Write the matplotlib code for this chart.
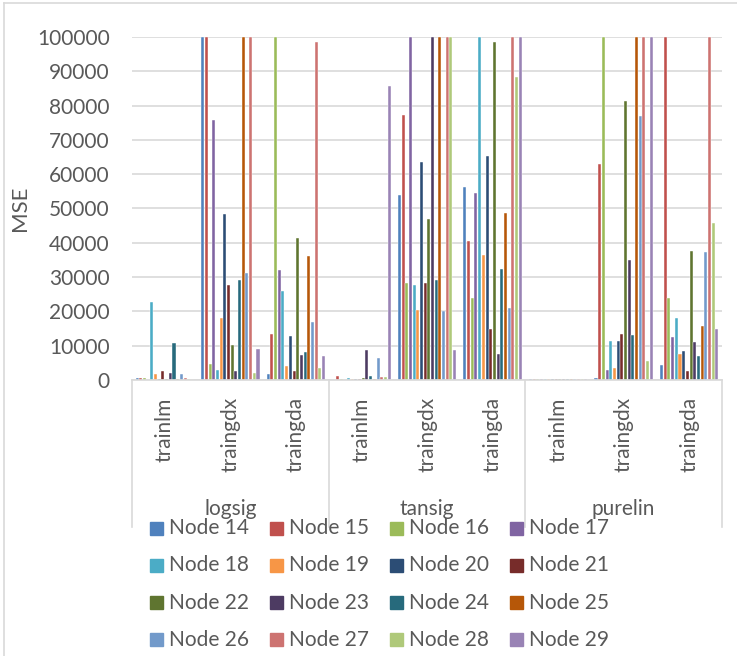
import matplotlib
matplotlib.use("Agg")
import matplotlib.pyplot as plt
from matplotlib.lines import Line2D
from matplotlib.patches import Rectangle
import numpy as np

plt.rcParams["font.family"] = ["Lato", "DejaVu Sans"]

activations = ["logsig", "tansig", "purelin"]
trainers = ["trainlm", "traingdx", "traingda"]
nodes = [f"Node {n}" for n in range(14, 30)]
colors = ["#4F81BD", "#C0504D", "#9BBB59", "#8064A2", "#4BACC6", "#F79646",
          "#2C4D75", "#772C2A", "#5F7530", "#4D3B62", "#276A7C", "#B65708",
          "#729ACA", "#CD7371", "#AFC97A", "#9983B5"]

# MSE per category (rows) and node (columns); bars at 100000 run off the axis
logsig_trainlm = [500, 600, 500, 100, 22800, 1750, 200, 2600, 300, 1900, 10700, 200, 1750, 600, 300, 100]
logsig_traingdx = [100000, 100000, 4700, 75900, 2900, 18000, 48500, 27700, 10200, 2600, 29300, 100000, 31300, 100000, 2000, 9000]
logsig_traingda = [1700, 13300, 100000, 32200, 25900, 4100, 12800, 2600, 41400, 7300, 8300, 36100, 16800, 98500, 3500, 7100]
tansig_trainlm = [100, 1200, 300, 100, 600, 300, 200, 400, 700, 8700, 1300, 400, 6400, 900, 800, 85800]
tansig_traingdx = [54000, 77200, 28200, 100000, 27700, 20300, 63600, 28300, 46900, 100000, 29100, 100000, 20100, 100000, 100000, 8700]
tansig_traingda = [56200, 40600, 23800, 54500, 100000, 36400, 65400, 14900, 98400, 7500, 32300, 48800, 20900, 100000, 88300, 100000]
purelin_trainlm = [150, 150, 200, 150, 150, 150, 150, 150, 150, 150, 150, 150, 150, 150, 150, 150]
purelin_traingdx = [600, 63100, 100000, 2800, 11300, 3500, 11300, 13400, 81300, 35100, 13100, 100000, 77000, 100000, 5400, 100000]
purelin_traingda = [4400, 100000, 24000, 12500, 18100, 7700, 8400, 2600, 37600, 11100, 7100, 15700, 37200, 100000, 45700, 14800]

mse = np.array([logsig_trainlm, logsig_traingdx, logsig_traingda,
                tansig_trainlm, tansig_traingdx, tansig_traingda,
                purelin_trainlm, purelin_traingdx, purelin_traingda])

W, H = 737, 656
TXT = "#595959"
LINE = "#D9D9D9"
FS = 15

fig = plt.figure(figsize=(W / 100, H / 100), dpi=100)
ax = fig.add_axes([132 / W, 1 - 380 / H, 590 / W, 343 / H])

n_cat, n_ser = mse.shape
slot = 0.9 / n_ser
x = np.arange(n_cat)
for j in range(n_ser):
    ax.bar(x - 0.45 + slot * (j + 0.5), mse[:, j], width=slot * 0.82,
           color=colors[j], edgecolor="white", linewidth=0.3, zorder=2)

ax.set_xlim(-0.5, n_cat - 0.5)
ax.set_ylim(0, 100000)
ax.set_yticks(np.arange(0, 100001, 10000))
ax.yaxis.grid(True, color=LINE, linewidth=1.2, zorder=0)
ax.set_axisbelow(True)
for s in ["top", "right", "left"]:
    ax.spines[s].set_visible(False)
ax.spines["bottom"].set_color(LINE)
ax.spines["bottom"].set_linewidth(1.2)
ax.tick_params(axis="y", length=0, pad=16, labelsize=FS, labelcolor=TXT)
ax.tick_params(axis="x", length=0, labelbottom=False)
ax.set_ylabel("MSE", fontsize=16, color=TXT, labelpad=5)

# two-level category axis
tr = ax.get_xaxis_transform()
for i in range(n_cat):
    ax.text(i, -0.05, trainers[i % 3], rotation=90, ha="center", va="top",
            fontsize=FS, color=TXT, transform=tr)
for k, act in enumerate(activations):
    ax.text(3 * k + 1, -0.375, act, ha="center", va="center",
            fontsize=FS, color=TXT, transform=tr)
for xb in [-0.5, 2.5, 5.5, 8.5]:
    ax.add_line(Line2D([xb, xb], [0, -0.43], transform=tr, color=LINE,
                       linewidth=1.2, clip_on=False))

# legend, 4 columns
for k, name in enumerate(nodes):
    r, c = divmod(k, 4)
    px = 150 + 120 * c
    py = 528 + 37.3 * r
    fig.patches.append(Rectangle((px / W, 1 - (py + 6.5) / H), 13 / W, 13 / H,
                                 transform=fig.transFigure, color=colors[k]))
    fig.text((px + 19) / W, 1 - py / H, name, ha="left", va="center",
             fontsize=FS, color=TXT)

# chart area border
fig.add_artist(Line2D([4 / W, 4 / W], [0, 1 - 3 / H], color=LINE, linewidth=1.2))
fig.add_artist(Line2D([4 / W, 1], [1 - 3 / H, 1 - 3 / H], color=LINE, linewidth=1.2))

fig.savefig("out.png", dpi=100)
plt.close(fig)
